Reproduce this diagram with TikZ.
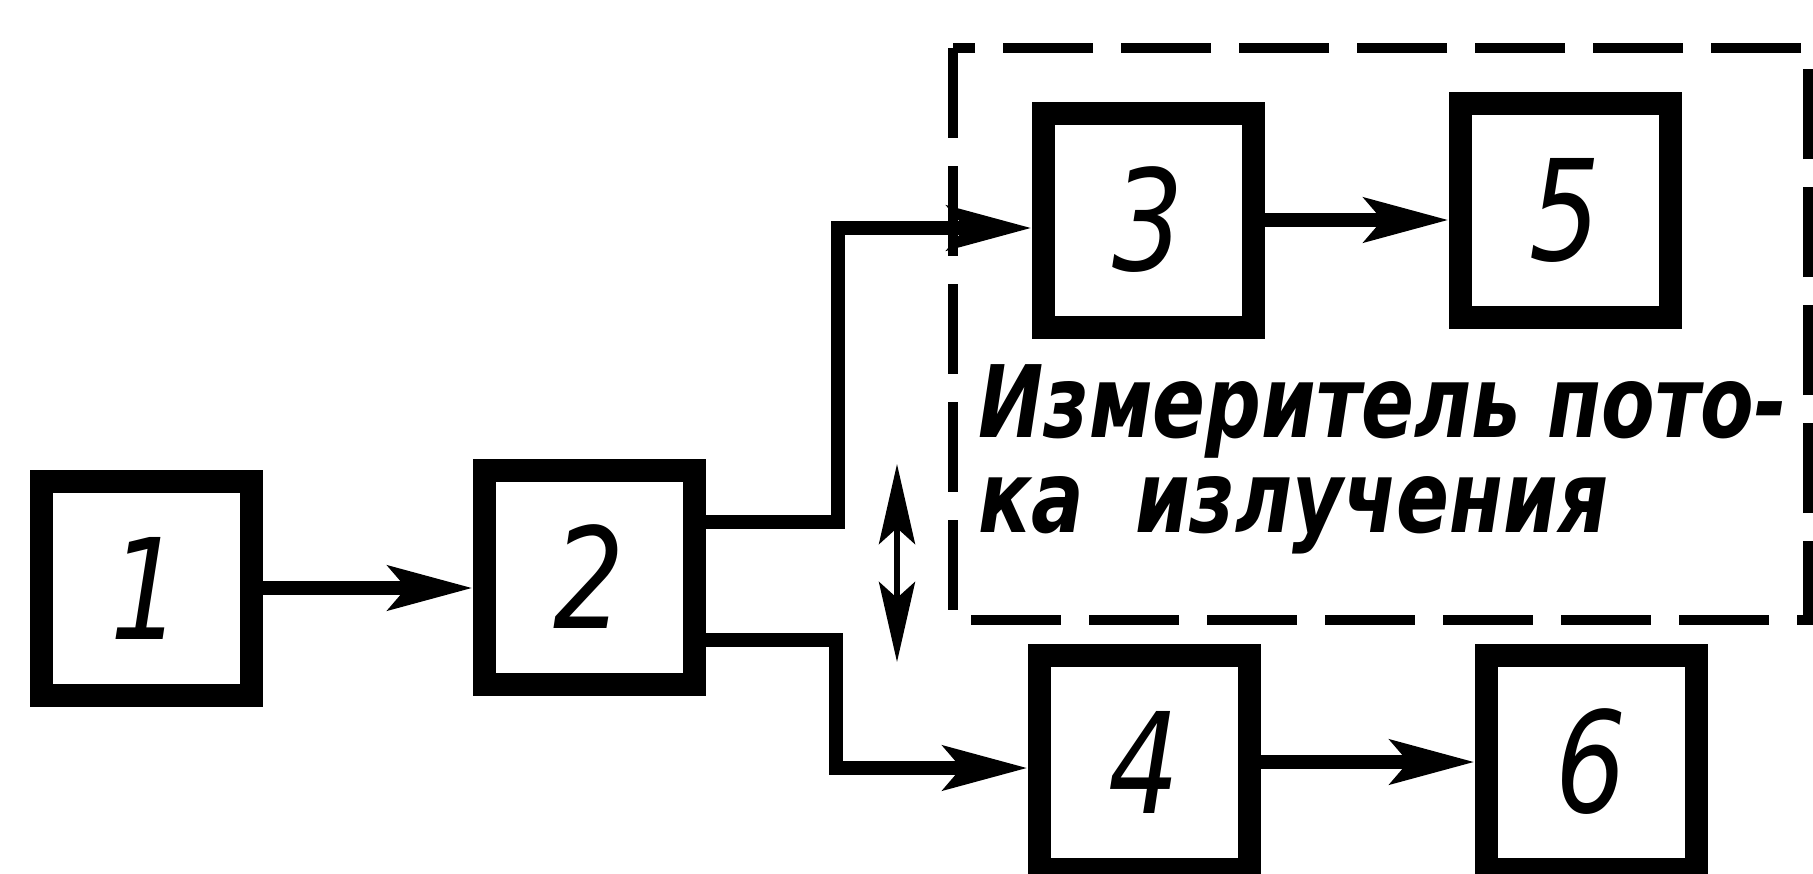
\documentclass[tikz,border=0pt]{standalone}
\usepackage{fontspec}
\setmainfont{DejaVu Sans}
\newfontfamily\capfont{DejaVu Sans}[FakeStretch=0.78]
\newfontfamily\digitfont{DejaVu Sans}[FakeStretch=0.8]
\usetikzlibrary{arrows.meta}
\begin{document}
\begin{tikzpicture}[x=0.5pt,y=-0.5pt]
        \tikzset{block/.style={draw,line width=11.5pt,minimum width=105pt,minimum height=107pt,inner sep=0pt,font=\digitfont\itshape\fontsize{70}{70}\selectfont},
                 link/.style={line width=7pt,-{Stealth[length=42pt,width=22pt,inset=9pt]}},
                 frame line/.style={line width=5pt,dash pattern=on 45pt off 14pt},
                 caption/.style={anchor=base west,inner sep=0pt,font=\capfont\bfseries\itshape\fontsize{50}{52}\selectfont}}

        \useasboundingbox (0,0) rectangle (1813,873);

        \node[block] (B1) at (146,588) {1};
        \node[block] (B2) at (589,577) {2};
        \node[block] (B3) at (1148,220) {3};
        \node[block] (B5) at (1565,210) {5};
        \node[block] (B4) at (1144,762) {4};
        \node[block] (B6) at (1591,762) {6};

        \coordinate (J1) at (838,400);
        \coordinate (J2) at (836,700);

        \draw[link] (B1) -- (B1 -| B2.west);
        \draw[link] ([yshift=27.5pt]B2.east) -| (J1) |- ([yshift=-4pt]B3.west);
        \draw[link] ([yshift=-31.5pt]B2.east) -| (J2) |- ([yshift=-3pt]B4.west);
        \draw[link] (B3) -- (B3 -| B5.west);
        \draw[link] (B4) -- (B4 -| B6.west);

        % double arrow
        \coordinate (M1) at (897,464);
        \coordinate (M2) at (897,662);
        \draw[line width=3pt,{Stealth[length=40pt,width=18pt,inset=8pt]}-{Stealth[length=40pt,width=18pt,inset=8pt]}] (M1) -- (M2);

        % dashed frame
        \draw[frame line] (953,48) rectangle (1808,620);
        \node[caption] (L1) at (978,437) {Измеритель пото-};
        \node[caption] (L2) at (978,532) {ка\hspace{12pt} излучения};
    \end{tikzpicture}
\end{document}
